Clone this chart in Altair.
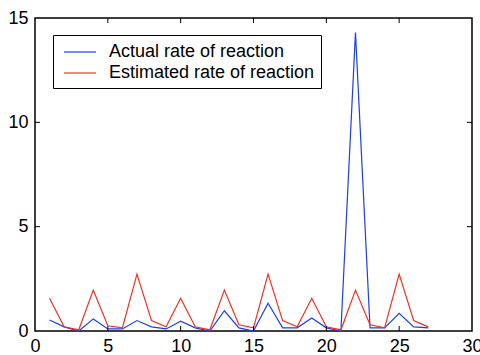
import altair as alt
import pandas as pd

x_vals = list(range(1, 28))
actual = [0.53, 0.2, 0.0, 0.58, 0.1, 0.1, 0.5, 0.2, 0.1, 0.47, 0.15, 0.0, 0.97, 0.15, 0.0,
          1.33, 0.15, 0.15, 0.62, 0.15, 0.0, 14.3, 0.15, 0.15, 0.85, 0.2, 0.15]
estimated = [1.57, 0.2, 0.05, 1.96, 0.25, 0.15, 2.73, 0.5, 0.2, 1.57, 0.2, 0.05, 1.96, 0.3, 0.15,
             2.73, 0.5, 0.2, 1.57, 0.2, 0.05, 1.96, 0.3, 0.15, 2.73, 0.5, 0.2]
series_names = ["Actual rate of reaction", "Estimated rate of reaction"]
series_colors = ["#1a3cff", "#ff2a1a"]
x_ticks = [0, 5, 10, 15, 20, 25, 30]
y_ticks = [0, 5, 10, 15]
x_inner = [5, 10, 15, 20, 25]
y_inner = [5, 10]

df = pd.DataFrame({
    "x": x_vals * 2,
    "value": actual + estimated,
    "series": [series_names[0]] * len(x_vals) + [series_names[1]] * len(x_vals),
})
dfx = pd.DataFrame({"x": x_inner})
dfy = pd.DataFrame({"value": y_inner})

W, H = 437, 313
FONT = "Liberation Sans"
xscale = alt.Scale(domain=[0, 30], nice=False, zero=False)
yscale = alt.Scale(domain=[0, 15], nice=False)

xaxis = alt.Axis(values=x_ticks, title=None, grid=False, domain=False, ticks=False,
                 labelFontSize=18, labelFont=FONT, labelColor="black", labelPadding=6,
                 labelFlush=False)
yaxis = alt.Axis(values=y_ticks, title=None, grid=False, domain=False, ticks=False,
                 labelFontSize=18, labelFont=FONT, labelColor="black", labelPadding=7,
                 labelFlush=False)

lines = alt.Chart(df).mark_line(strokeWidth=1.2).encode(
    x=alt.X("x:Q", scale=xscale, axis=xaxis),
    y=alt.Y("value:Q", scale=yscale, axis=yaxis),
    color=alt.Color("series:N",
                    scale=alt.Scale(domain=series_names, range=series_colors),
                    legend=alt.Legend(title=None, orient="none", legendX=18, legendY=17,
                                      symbolType="M-0.6,0H2.6", symbolSize=400,
                                      symbolStrokeWidth=1.2,
                                      labelFontSize=18, labelFont=FONT, labelColor="black",
                                      labelOffset=28, labelLimit=400, padding=6, rowPadding=1,
                                      strokeColor="black", fillColor="white")),
    detail="series:N",
)

tick_len = 5
xb = alt.Chart(dfx).mark_rule(color="black").encode(
    x=alt.X("x:Q", scale=xscale, axis=xaxis), y=alt.value(H), y2=alt.value(H - tick_len))
xt = alt.Chart(dfx).mark_rule(color="black").encode(
    x=alt.X("x:Q", scale=xscale, axis=xaxis), y=alt.value(0), y2=alt.value(tick_len))
yl = alt.Chart(dfy).mark_rule(color="black").encode(
    y=alt.Y("value:Q", scale=yscale, axis=yaxis), x=alt.value(0), x2=alt.value(tick_len))
yr = alt.Chart(dfy).mark_rule(color="black").encode(
    y=alt.Y("value:Q", scale=yscale, axis=yaxis), x=alt.value(W), x2=alt.value(W - tick_len))

chart = alt.layer(lines, xb, xt, yl, yr).properties(
    width=W, height=H,
    autosize=alt.AutoSizeParams(type="none"),
    padding={"left": 35, "top": 18, "right": 8, "bottom": 24},
    background="white",
).configure_view(stroke="black", strokeWidth=1.5)

chart.save("out.html", embed_options={"renderer": "svg", "actions": False})
